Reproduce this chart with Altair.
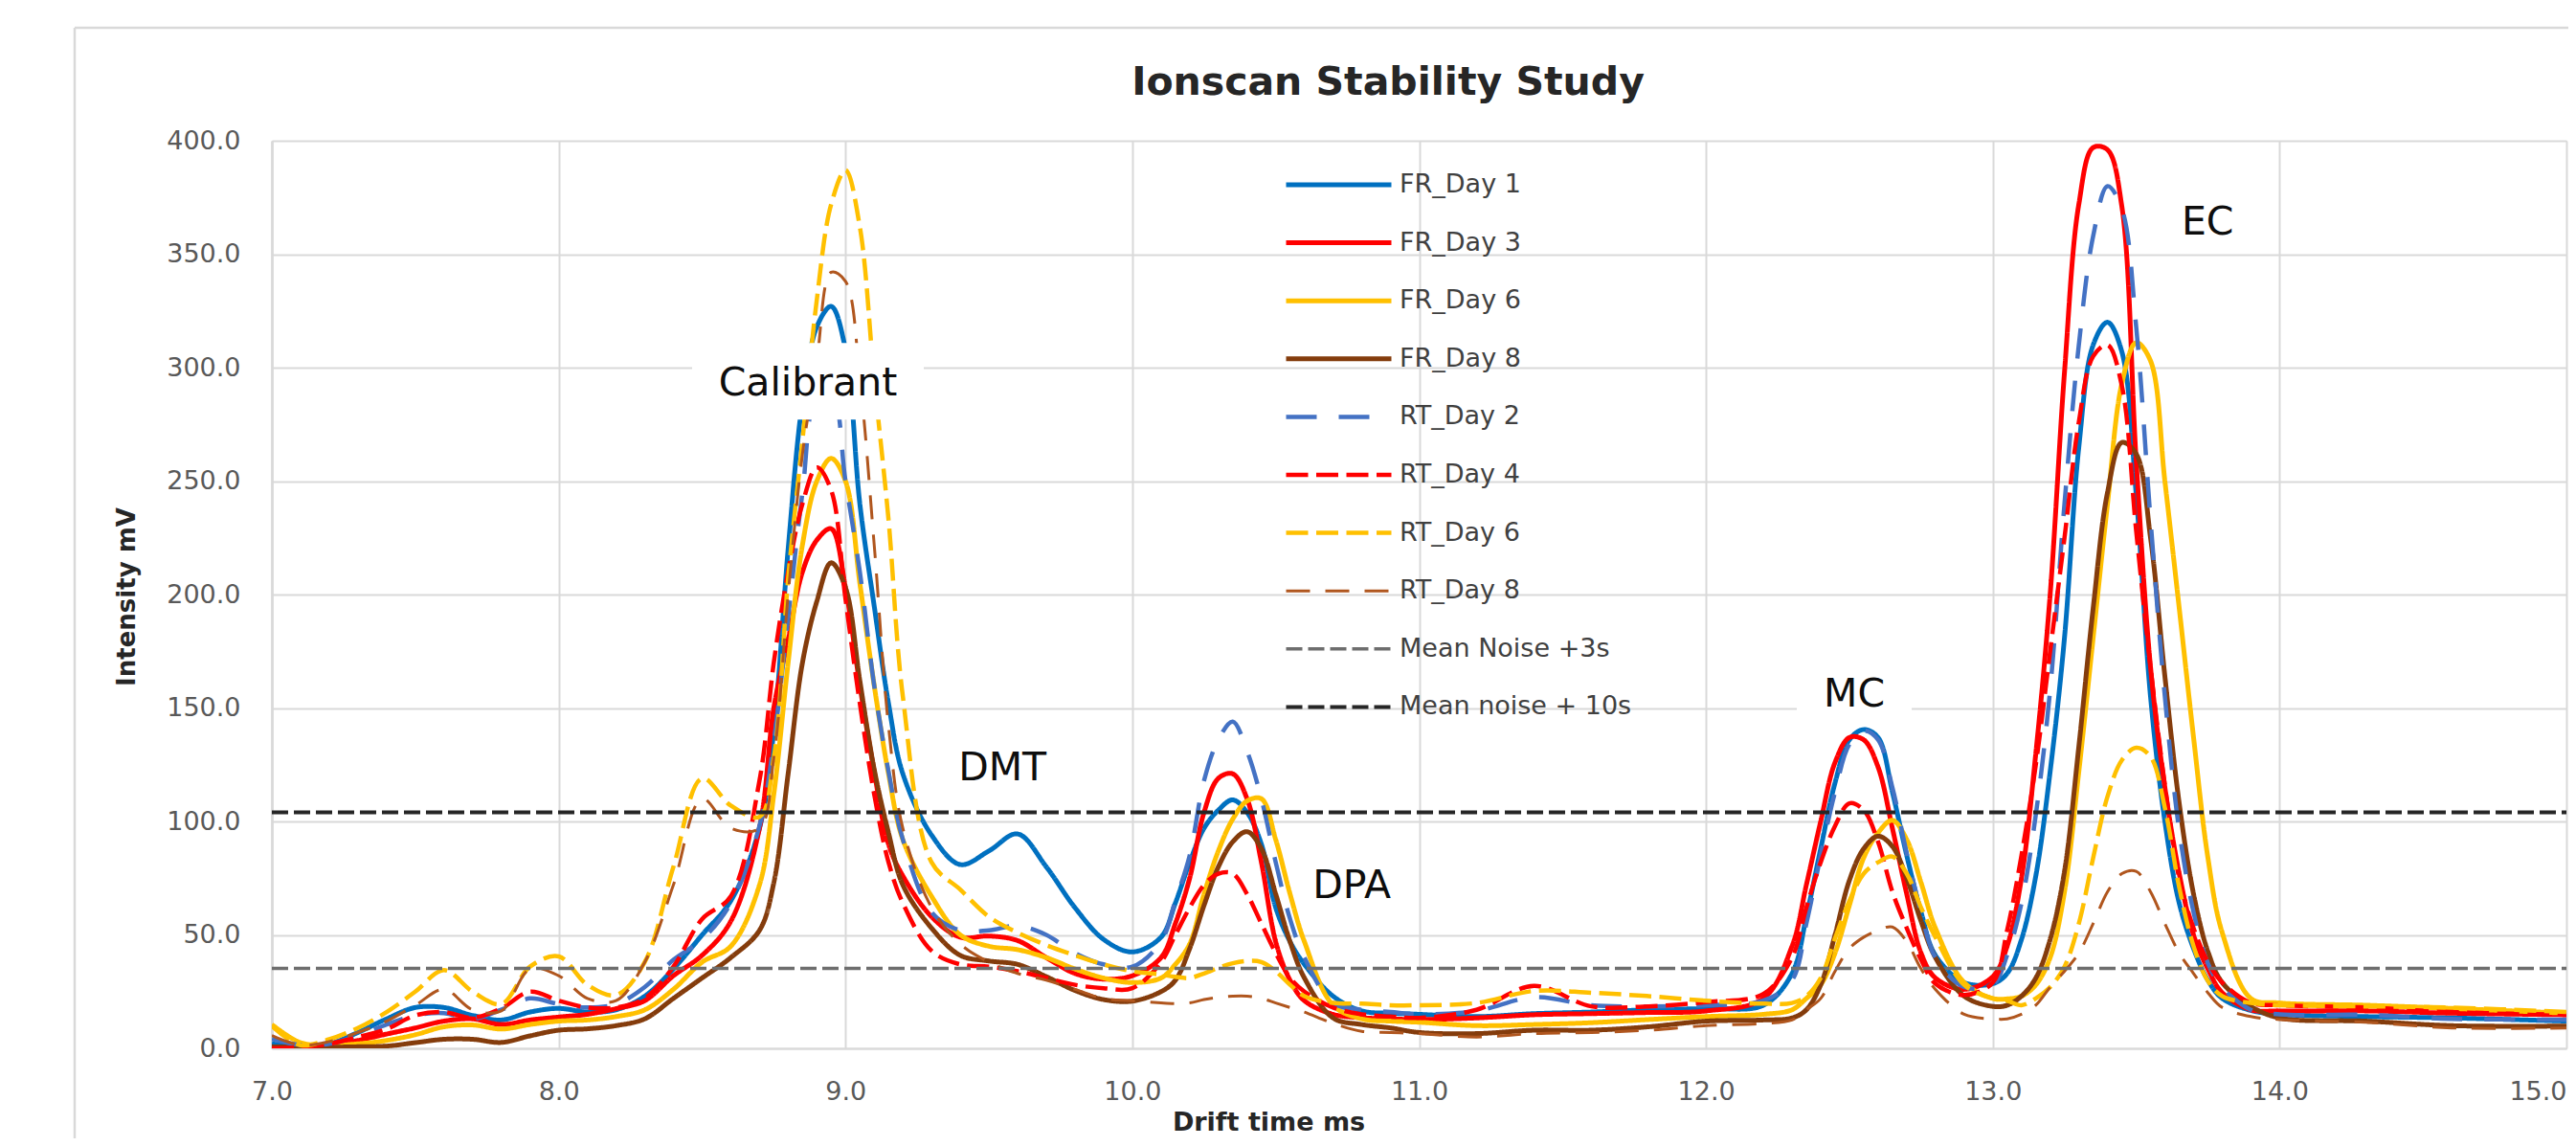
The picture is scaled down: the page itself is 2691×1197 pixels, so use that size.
import altair as alt
import pandas as pd

TITLE = "Ionscan Stability Study"
X_TITLE = "Drift time ms"
Y_TITLE = "Intensity mV"

DRIFT_MS = [7.0, 7.1, 7.2, 7.3, 7.4, 7.5, 7.6, 7.7, 7.8, 7.9,
            8.0, 8.1, 8.2, 8.3, 8.4, 8.5, 8.6, 8.7, 8.75, 8.8,
            8.85, 8.9, 8.95, 9.0, 9.05, 9.1, 9.15, 9.2, 9.3, 9.4,
            9.5, 9.6, 9.7, 9.8, 9.9, 10.0, 10.1, 10.15, 10.2, 10.25,
            10.3, 10.35, 10.4, 10.45, 10.5, 10.55, 10.6, 10.7, 10.8, 10.9,
            11.0, 11.2, 11.4, 11.6, 11.8, 12.0, 12.2, 12.3, 12.35, 12.4,
            12.45, 12.5, 12.55, 12.6, 12.65, 12.7, 12.75, 12.8, 12.9, 13.0,
            13.05, 13.1, 13.15, 13.2, 13.25, 13.3, 13.35, 13.4, 13.45, 13.5,
            13.55, 13.6, 13.65, 13.7, 13.75, 13.8, 13.9, 14.0, 14.3, 14.6,
            15.0]

FR_DAY_1 = [2, 1, 2, 7, 13, 18, 18, 14.5, 12.5, 16,
            17.6, 16, 17, 23, 35, 50, 65, 97, 140, 220,
            285, 318, 327, 308, 240, 195, 152, 121, 94, 81,
            87, 94.5, 80, 62, 48, 42.5, 49, 64, 82, 97,
            105, 109.5, 104, 90, 62, 47, 37, 23, 16.5, 15.5,
            15, 14, 15.3, 16, 17, 17.6, 19, 33, 58, 88,
            117, 136, 140.5, 137, 113, 85, 60, 41, 29, 28.5,
            33, 48, 76, 122, 181, 265, 310, 320, 307, 244,
            155, 100, 64, 44, 30, 22, 16.7, 15, 14, 13.4,
            12]

FR_DAY_3 = [0, 0.5, 1.4, 3.5, 6.3, 9, 12, 13, 10.5, 12.5,
            13.8, 15, 17.5, 21, 32, 41, 56, 97, 150, 180,
            210, 224, 229, 203, 160, 122, 90, 76, 58, 49,
            49.5, 47.5, 40, 33, 30.5, 32, 40, 55, 75, 104,
            119, 121, 110, 82, 47, 30, 21, 15, 13.5, 13,
            12.7, 13.4, 14.8, 15.3, 15.8, 16.5, 22, 45, 72, 100,
            126, 137, 136, 124, 97, 68, 42, 31, 26, 31.6,
            45, 75, 130, 200, 298, 372, 397, 396, 371, 259,
            168, 115, 77, 50, 35, 24.5, 17, 16.5, 16.5, 15.5,
            14.8]

FR_DAY_6 = [10.5, 2.5, 1.4, 2, 3.5, 6, 9.5, 10.3, 8.5, 10.5,
            12, 12.5, 14, 17, 26, 38, 45, 72, 112, 170,
            222, 250, 260, 250, 205, 160, 121, 92, 67, 50,
            45, 43.5, 40, 35, 31, 29, 31, 37, 46, 68,
            87, 101, 109, 110, 92, 68, 47, 19, 13, 12,
            11.5, 10, 10.5, 11.3, 12.7, 14, 15, 17, 22, 28,
            42, 63, 84, 95, 100.5, 92, 73, 53, 29, 22,
            21.8, 23, 28, 40, 69, 122, 181, 240, 293, 311,
            303, 250, 194, 137, 84, 51, 22, 20, 19, 17.6,
            15.5]

FR_DAY_8 = [0.7, 0.5, 0.5, 0.7, 1, 2.5, 4, 4, 2.6, 5.5,
            8, 8.6, 10, 13, 22, 31, 40, 52, 73, 121,
            170, 197, 214, 203, 162, 123, 95, 72, 53, 41,
            38.5, 37, 31.6, 25.5, 21.5, 20.8, 25, 30, 44, 63,
            80, 91, 95.5, 88, 68, 47, 31, 13.4, 10.5, 9,
            7, 6.5, 8, 8, 9.5, 12, 12.5, 13.4, 17, 28,
            50, 74, 88, 93.5, 89, 75, 56, 40, 23, 18.5,
            19, 23, 31, 48, 78, 133, 194, 245, 267, 262,
            225, 164, 108, 68, 42.7, 29, 18.5, 13.4, 12, 10,
            9.8]

RT_DAY_2 = [4.2, 1.5, 2, 5.5, 10.5, 14.5, 15.5, 13, 17, 22,
            19.5, 18, 19.5, 27, 39, 48, 64, 98, 135, 190,
            245, 288, 290, 250, 210, 160, 122, 92, 60, 52,
            52, 54, 50, 42, 37, 36, 47, 65, 85, 118,
            136, 144, 131, 110, 82, 57, 40, 20, 17, 16,
            15, 16.5, 22.5, 19, 18.5, 19, 21, 30, 55, 85,
            113, 134, 140, 136, 115, 86, 60, 40, 27, 28,
            41, 64, 103, 158, 240, 310, 358, 380, 370, 318,
            233, 155, 96, 60, 37.5, 27, 17, 15, 14.8, 13,
            12.7]

RT_DAY_4 = [0, 0.5, 2, 5, 8.5, 14.5, 16, 13.5, 17.6, 25,
            21, 18, 18, 22, 36, 57, 67, 118, 170, 210,
            240, 256, 246, 198, 152, 112, 82, 64, 43, 37,
            36, 34, 31, 28, 26.5, 26.5, 38, 50, 62, 72,
            77, 77, 68, 55, 42, 31, 25, 18, 15, 14,
            13.4, 17, 27.5, 18.5, 18.5, 20.4, 24, 40, 62, 82,
            98, 108, 105, 91, 69, 53, 39, 28.5, 23.5, 29,
            52, 85, 125, 175, 225, 276, 305, 310, 292, 228,
            168, 116, 75, 53, 38, 29, 20, 19, 18, 16,
            14.8]

RT_DAY_6 = [9.8, 1.4, 4, 9, 16, 25, 34.5, 25, 19.5, 36,
            40.5, 28, 23.5, 38, 80, 119, 107, 102, 128, 207,
            268, 330, 372, 387, 362, 295, 233, 155, 82, 70,
            58, 51, 45.5, 41, 37, 34, 32.5, 31.5, 31, 33,
            35.5, 37.5, 38.5, 38, 34, 28, 23, 20, 19.7, 19,
            19, 20, 25.3, 24.5, 23, 21, 19.7, 20, 23, 31,
            48.5, 65, 77, 82, 84.5, 77, 62, 49, 28, 22,
            21, 19, 22, 27, 36, 55, 84, 111, 127, 132.5,
            128.6, 106, 71, 45, 29.7, 23, 20, 19, 18.5, 18,
            16]

RT_DAY_8 = [5.6, 1.4, 3, 7, 12, 19, 26, 17, 16.5, 35,
            32, 22, 21, 38, 72, 110, 97, 97, 128, 200,
            262, 303, 342, 338, 295, 222, 142, 97, 62, 46,
            38, 33, 30, 26, 22, 21, 20, 19.7, 20, 21.5,
            22.5, 23, 23, 22, 20, 18, 16, 11, 7.5, 7,
            6.5, 5, 6.5, 7, 8, 10, 11, 12.5, 17, 22,
            34, 44, 49, 52, 53.5, 47, 35, 26, 15, 13,
            13, 15, 19, 27, 34, 42, 55, 69, 77, 78,
            69, 55, 42, 33, 24.5, 18, 14, 12.7, 11.5, 9,
            9]

NOISE_X = [7.0, 15.0]
NOISE_3S = 35.2
NOISE_10S = 104.0

SERIES_NAMES = ["FR_Day 1", "FR_Day 3", "FR_Day 6", "FR_Day 8",
                "RT_Day 2", "RT_Day 4", "RT_Day 6", "RT_Day 8",
                "Mean Noise +3s", "Mean noise + 10s"]

LABELS = ["Calibrant", "DMT", "DPA", "MC", "EC"]
LABEL_X = [8.869, 9.547, 10.765, 12.517, 13.749]
LABEL_Y = [294.0, 124.5, 72.5, 157.0, 365.0]

# ---- styles ----
COLORS = ["#0070C0", "#FF0000", "#FFC000", "#843C0C",
          "#4472C4", "#FF0000", "#FFC000", "#B0561E",
          "#6E6E6E", "#262626"]
DASHES = [[1, 0], [1, 0], [1, 0], [1, 0],
          [32, 23], [23, 8.5], [23, 8.5], [25, 16],
          [17, 6], [17, 6]]
WIDTHS = [5, 5, 5, 5, 4.5, 4.5, 4.5, 3, 3.5, 4]

W, H = 2397, 948
PX_X = W / 8.0
PX_Y = H / 400.0
BOX_HALF = {"Calibrant": (121, 40), "MC": (60, 34), "EC": (49, 35)}

FONT = "DejaVu Sans"
GRID = "#d9d9d9"

# ---- data tables ----
series_values = [FR_DAY_1, FR_DAY_3, FR_DAY_6, FR_DAY_8,
                 RT_DAY_2, RT_DAY_4, RT_DAY_6, RT_DAY_8]
rows = []
for name, vals in zip(SERIES_NAMES[:8], series_values):
    for x, v in zip(DRIFT_MS, vals):
        rows.append({"drift": x, "intensity": v, "series": name})
curves = pd.DataFrame(rows)

noise_rows = []
for name, level in zip(SERIES_NAMES[8:], [NOISE_3S, NOISE_10S]):
    for x in NOISE_X:
        noise_rows.append({"drift": x, "intensity": level, "series": name})
noise = pd.DataFrame(noise_rows)

labels = pd.DataFrame({"label": LABELS, "drift": LABEL_X, "intensity": LABEL_Y})
box_rows = []
for lab, lx, ly in zip(LABELS, LABEL_X, LABEL_Y):
    if lab in BOX_HALF:
        hw, hh = BOX_HALF[lab]
        box_rows.append({"x1": lx - hw / PX_X, "x2": lx + hw / PX_X,
                         "y1": ly - hh / PX_Y, "y2": ly + hh / PX_Y})
boxes = pd.DataFrame(box_rows)

x_scale = alt.Scale(domain=[7, 15], nice=False, zero=False)
y_scale = alt.Scale(domain=[0, 400], nice=False, zero=True)

x_axis = alt.Axis(values=list(range(7, 16)), format=".1f", title=X_TITLE,
                  labelFont=FONT, labelFontSize=27, labelColor="#595959",
                  labelAlign={"condition": {"test": "datum.value >= 15", "value": "right"},
                              "value": "center"},
                  labelPadding=32, labelFlush=False, labelOverlap=False, ticks=False,
                  domainColor=GRID, domainWidth=2, gridColor=GRID, gridWidth=2,
                  titleFont=FONT, titleFontSize=27, titleFontWeight="bold",
                  titleColor="#262626", titleX=1041, titleY=64,
                  titleBaseline="top", titleAlign="center")
y_axis = alt.Axis(values=list(range(0, 401, 50)), format=".1f", title=Y_TITLE,
                  labelFont=FONT, labelFontSize=27, labelColor="#595959",
                  labelPadding=33, labelFlush=False, ticks=False,
                  domainColor=GRID, domainWidth=2.5, gridColor=GRID, gridWidth=2,
                  titleFont=FONT, titleFontSize=26, titleFontWeight="bold",
                  titleColor="#262626", titleX=-152, titleY=476, titleAngle=270,
                  titleBaseline="middle", titleAlign="center")

legend = alt.Legend(orient="none", legendX=1057, legendY=31, padding=0,
                    symbolType="stroke", symbolSize=12100, clipHeight=30,
                    rowPadding=30.6, labelOffset=6, labelFont=FONT, labelFontSize=27,
                    labelColor="#404040", labelLimit=600)

color_enc = alt.Color("series:N", scale=alt.Scale(domain=SERIES_NAMES, range=COLORS),
                      legend=legend, title=None)
dash_enc = alt.StrokeDash("series:N", scale=alt.Scale(domain=SERIES_NAMES, range=DASHES),
                          legend=legend, title=None)
width_enc = alt.StrokeWidth("series:N",
                            scale=alt.Scale(type="ordinal", domain=SERIES_NAMES, range=WIDTHS),
                            legend=legend, title=None)

lines = alt.Chart(curves).mark_line(interpolate="catmull-rom", clip=True).encode(
    x=alt.X("drift:Q", scale=x_scale, axis=x_axis),
    y=alt.Y("intensity:Q", scale=y_scale, axis=y_axis),
    color=color_enc, strokeDash=dash_enc, strokeWidth=width_enc,
)

noise_lines = alt.Chart(noise).mark_line(clip=True).encode(
    x="drift:Q", y="intensity:Q",
    color=color_enc, strokeDash=dash_enc, strokeWidth=width_enc,
)

label_boxes = alt.Chart(boxes).mark_rect(color="white").encode(
    x="x1:Q", x2="x2:Q", y="y1:Q", y2="y2:Q")

label_text = alt.Chart(labels).mark_text(font=FONT, fontSize=41, color="#0d0d0d",
                                         align="center", baseline="middle", dy=3).encode(
    x="drift:Q", y="intensity:Q", text="label:N")

title_text = alt.Chart(pd.DataFrame({"t": [TITLE]})).mark_text(
    font=FONT, fontSize=41, fontWeight="bold", color="#262626",
    align="center", baseline="middle").encode(
    x=alt.value(1166), y=alt.value(-60), text="t:N")

border_left = alt.Chart(pd.DataFrame({"k": [0]})).mark_rule(color=GRID, strokeWidth=2.5).encode(
    x=alt.value(-206), y=alt.value(-118), y2=alt.value(1060))
border_top = alt.Chart(pd.DataFrame({"k": [0]})).mark_rule(color=GRID, strokeWidth=2.5).encode(
    x=alt.value(-206), x2=alt.value(2420), y=alt.value(-118))

chart = alt.layer(
    lines, noise_lines, label_boxes, label_text, title_text, border_left, border_top
).properties(
    width=W, height=H,
    autosize=alt.AutoSizeParams(type="none"),
    padding={"left": 276, "top": 139, "right": 2, "bottom": 94},
).configure_view(strokeWidth=0).configure(background="white")

chart.save("out.html", embed_options={"renderer": "svg", "actions": False})
